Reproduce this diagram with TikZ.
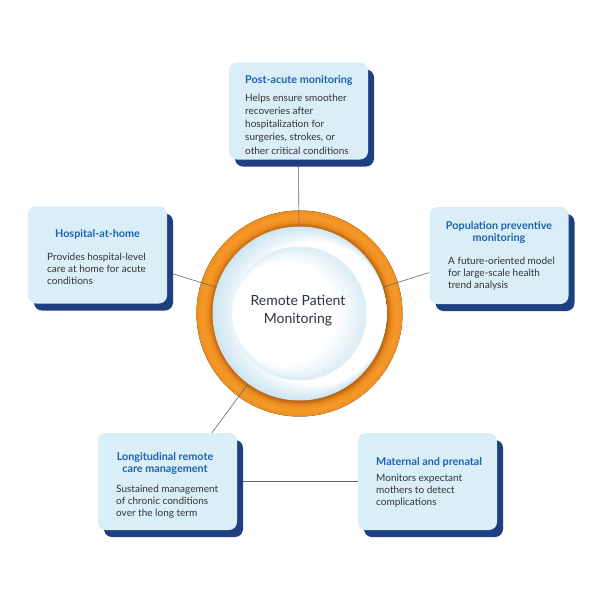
\documentclass[tikz,border=0pt]{standalone}
\usepackage{fontspec}
\setmainfont{Lato}
\usetikzlibrary{calc,shadows}
\definecolor{boxfill}{HTML}{D9EEF7}
\definecolor{shadowblue}{HTML}{1E3F80}
\definecolor{titleblue}{HTML}{1F63AE}
\definecolor{bodytext}{HTML}{333333}
\definecolor{linegray}{HTML}{666666}
\definecolor{centertext}{HTML}{2D3340}
\definecolor{orgdark}{HTML}{B0600F}
\definecolor{orgmid}{HTML}{EE8C1E}
\definecolor{orgbright}{HTML}{F49A2A}
\definecolor{ringblue}{HTML}{CDE5F1}
\definecolor{discblue}{HTML}{DCEDF6}
\pgfdeclareradialshading{ringshade}{\pgfpoint{0bp}{0bp}}{color(0bp)=(orgdark); color(21bp)=(orgdark); color(22.3bp)=(orgmid); color(23.6bp)=(orgbright); color(25bp)=(orgmid); color(50bp)=(orgmid)}
\tikzset{
  cardbox/.style={draw=none, fill=boxfill, rounded corners=8pt, minimum width=139pt, minimum height=97pt, inner sep=0pt,
    drop shadow={shadow xshift=6pt, shadow yshift=-7pt, fill=shadowblue, opacity=1}},
  cardspot/.style={minimum width=139pt, minimum height=97pt, inner sep=0pt},
  cardtitle/.style={font=\bfseries\fontsize{10.8}{12}\selectfont, text=titleblue, inner sep=0pt},
  cardbody/.style={font=\fontsize{10}{12}\selectfont, text=bodytext, align=left, inner sep=0pt, anchor=north west},
  connector/.style={draw=linegray, line width=0.6pt},
}
\begin{document}
\begin{tikzpicture}[x=1pt,y=-1pt]
\useasboundingbox[fill=white] (0,0) rectangle (600,600);
% centre
\coordinate (c) at (299.5,313.5);
\fill[shading=ringshade] (c) circle (103);
% box positions
\node[cardspot] (post) at (298.5,111) {};
\node[cardspot] (hosp) at (97.5,255) {};
\node[cardspot] (pop) at (499,255.5) {};
\node[cardspot] (long) at (167.5,481.5) {};
\node[cardspot] (mat) at (427.5,481.5) {};
\coordinate (hA) at ($(hosp.east)+(0,17)$);
\coordinate (pA) at ($(pop.west)+(0,17)$);
\coordinate (lA) at ($(long.north)+(44.5,0)$);
% connectors
\draw[connector] (c) -- (post.south);
\draw[connector] (c) -- (hA);
\draw[connector] (c) -- (pA);
\draw[connector] (c) -- (lA);
\draw[connector] (long.east) -- (mat.west);
% inner discs: stacked circles for a soft gradient
\foreach \i in {0,...,20}{
  \pgfmathsetmacro{\pc}{100-\i*5}
  \fill[ringblue!\pc!white] ($(c)+(\i*0.8,0)$) circle ({87-\i*0.8});
}
\fill[white] (c) circle (67.5);
\foreach \i in {0,...,16}{
  \pgfmathsetmacro{\pc}{100-\i*6}
  \fill[discblue!\pc!white] ($(c)+(-\i*0.9,0)$) circle ({67-\i*0.9});
}
\node[font=\fontsize{14}{18}\selectfont, text=centertext, align=center, inner sep=0pt] (ctext) at (298,311) {Remote Patient\\Monitoring};
% cards
\node[cardbox] (postc) at (post) {};
\node[cardbox] (hospc) at (hosp) {};
\node[cardbox] (popc) at (pop) {};
\node[cardbox] (longc) at (long) {};
\node[cardbox] (matc) at (mat) {};
% texts
\node[cardtitle, anchor=base west] (t1) at (245,83) {Post-acute monitoring};
\node[cardbody, font=\fontsize{10}{13.3}\selectfont] (b1) at (245,93.5) {Helps ensure smoother\\recoveries after\\hospitalization for\\surgeries, strokes, or\\other critical conditions};
\node[cardtitle, anchor=base] (t2) at (97.5,237) {Hospital-at-home};
\node[cardbody] (b2) at (47,253) {Provides hospital-level\\care at home for acute\\conditions};
\node[cardtitle, anchor=north, align=center] (t3) at (499,221) {Population preventive\\monitoring};
\node[cardbody] (b3) at (448,257) {A future-oriented model\\for large-scale health\\trend analysis};
\node[cardtitle, anchor=north, align=center] (t4) at (165,452) {Longitudinal remote\\care management};
\node[cardbody] (b4) at (116,484.5) {Sustained management\\of chronic conditions\\over the long term};
\node[cardtitle, anchor=base west] (t5) at (376,465) {Maternal and prenatal};
\node[cardbody] (b5) at (376,473.5) {Monitors expectant\\mothers to detect\\complications};
\end{tikzpicture}
\end{document}
